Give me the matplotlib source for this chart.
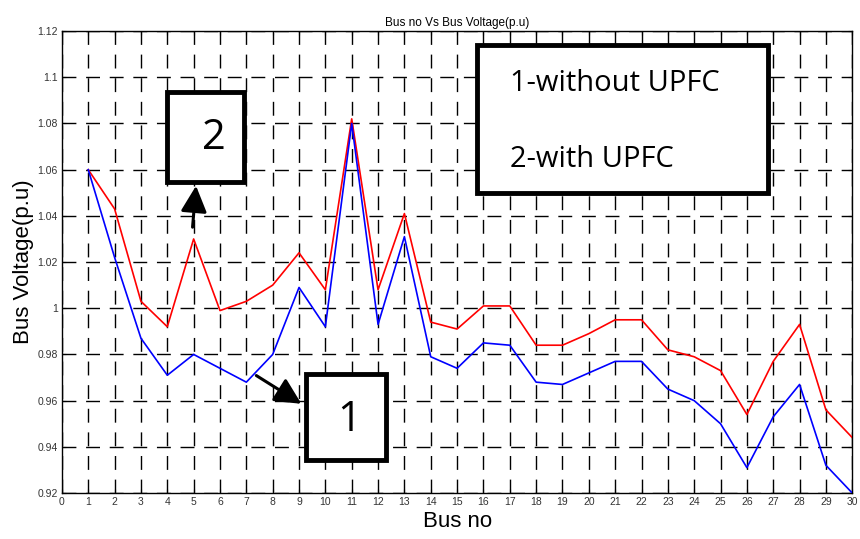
import numpy as np
import matplotlib.pyplot as plt
from matplotlib.patches import Rectangle

# Bus voltages
bus_no = list(range(1, 31))
v_without_upfc = [1.060, 1.022, 0.987, 0.971, 0.980, 0.974, 0.968, 0.980, 1.009, 0.992,
                  1.080, 0.993, 1.031, 0.979, 0.974, 0.985, 0.984, 0.968, 0.967, 0.972,
                  0.977, 0.977, 0.965, 0.960, 0.950, 0.931, 0.953, 0.967, 0.932, 0.920]
v_with_upfc = [1.060, 1.043, 1.003, 0.992, 1.030, 0.999, 1.003, 1.010, 1.024, 1.008,
               1.082, 1.008, 1.041, 0.994, 0.991, 1.001, 1.001, 0.984, 0.984, 0.989,
               0.995, 0.995, 0.982, 0.979, 0.973, 0.954, 0.977, 0.993, 0.956, 0.944]

x_ticks = list(range(0, 31))
y_ticks = [0.92, 0.94, 0.96, 0.98, 1.0, 1.02, 1.04, 1.06, 1.08, 1.1, 1.12]
y_ticklabels = ['0.92', '0.94', '0.96', '0.98', '1', '1.02', '1.04', '1.06', '1.08', '1.1', '1.12']

plt.rcParams['font.family'] = ['Liberation Sans', 'DejaVu Sans']

fig = plt.figure(figsize=(8.6, 5.39), dpi=100)
ax = fig.add_axes([0.072, 0.0853, 0.919, 0.857])

ax.plot(bus_no, v_with_upfc, color='red', lw=1.2, zorder=3)
ax.plot(bus_no, v_without_upfc, color='blue', lw=1.2, zorder=3)

ax.set_xlim(0, 30)
ax.set_ylim(0.92, 1.12)
ax.set_xticks(x_ticks)
ax.set_yticks(y_ticks)
ax.set_yticklabels(y_ticklabels)
ax.tick_params(direction='in', labelsize=7.5, length=3, pad=3, top=True, right=True,
               labelcolor='#333333')
ax.grid(True, color='black', linestyle=(0, (10, 7)), lw=1.0)
ax.set_axisbelow(True)
for s in ax.spines.values():
    s.set_linewidth(1.0)

ax.set_title('Bus no Vs Bus Voltage(p.u)', fontsize=8.5, pad=4)
ax.set_xlabel('Bus no', fontsize=16, labelpad=3)
ax.set_ylabel('Bus Voltage(p.u)', fontsize=16, labelpad=2)

# annotation boxes
def box(x0, y0, x1, y1):
    ax.add_patch(Rectangle((x0, y0), x1 - x0, y1 - y0, facecolor='white',
                           edgecolor='black', lw=3.5, zorder=5))

arrow = dict(arrowstyle='-|>,head_length=0.8,head_width=0.4', color='black', lw=2.2, mutation_scale=20)

box(4.0, 1.0546, 6.91, 1.0936)
ax.text(5.75, 1.0737, '2', fontsize=30, family='Open Sans', ha='center', va='center', zorder=6)
ax.annotate('', xy=(5.1, 1.0542), xytext=(4.95, 1.0339), arrowprops=arrow, zorder=6)

box(9.26, 0.9343, 12.32, 0.9715)
ax.text(10.9, 0.9516, '1', fontsize=30, family='Open Sans', ha='center', va='center', zorder=6)
ax.annotate('', xy=(9.18, 0.958), xytext=(7.29, 0.9715), arrowprops=arrow, zorder=6)

box(15.75, 1.0499, 26.82, 1.114)
ax.text(17.0, 1.0975, '1-without UPFC', fontsize=21, family='Open Sans', ha='left', va='center', zorder=6)
ax.text(17.0, 1.0642, '2-with UPFC', fontsize=21, family='Open Sans', ha='left', va='center', zorder=6)

fig.savefig('out.png', dpi=100)
